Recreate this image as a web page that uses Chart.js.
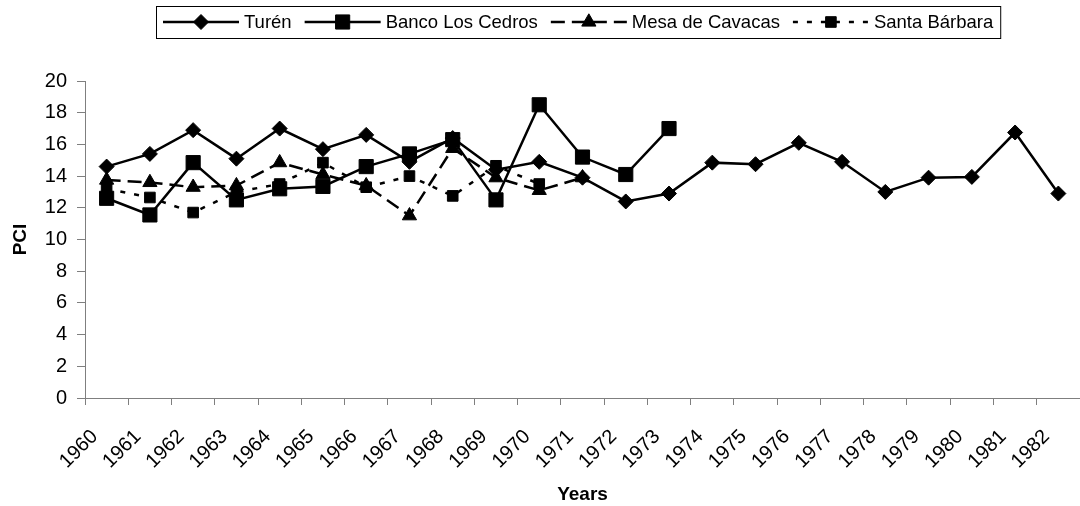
<!DOCTYPE html>
<html>
<head>
<meta charset="utf-8">
<script src="https://cdn.jsdelivr.net/npm/chart.js@4/dist/chart.umd.min.js"></script>
<style>
  html, body { margin: 0; padding: 0; background: #ffffff; }
  #wrap { width: 1080px; height: 506px; position: relative; }
</style>
</head>
<body>
<div id="wrap"><canvas id="chart" width="1080" height="506"></canvas></div>
<script>
// Years on the category axis
const years = ['1960','1961','1962','1963','1964','1965','1966','1967','1968','1969','1970',
               '1971','1972','1973','1974','1975','1976','1977','1978','1979','1980','1981','1982'];

// PCI per year for each locality (null = no record)
const turen = [14.6, 15.4, 16.9, 15.1, 17.0, 15.7, 16.6, 14.9, 16.4, 14.4, 14.9,
               13.9, 12.4, 12.9, 14.85, 14.75, 16.1, 14.9, 13.0, 13.9, 13.95, 16.75, 12.9];
const bancoLosCedros = [12.6, 11.55, 14.85, 12.5, 13.2, 13.35, 14.6, 15.4, 16.3, 12.5, 18.5,
                        15.2, 14.1, 17.0, null, null, null, null, null, null, null, null, null];
const mesaDeCavacas = [13.75, 13.6, 13.3, 13.4, 14.85, 14.1, 13.4, 11.5, 15.75, 13.9, 13.1,
                       13.9, null, null, null, null, null, null, null, null, null, null, null];
const santaBarbara = [13.2, 12.65, 11.7, 13.0, 13.5, 14.85, 13.3, 14.0, 12.75, 14.65, 13.5,
                      null, null, null, null, null, null, null, null, null, null, null, null];

// Y axis range and step
const yMin = 0, yMax = 20, yStep = 2;

const FONT = '"Liberation Sans", Arial, Helvetica, sans-serif';
const AXIS_GREY = '#7f7f7f';

function series(label, data, style, radius, dash, order) {
  return {
    label, data, order,
    borderColor: '#000', backgroundColor: '#000',
    borderWidth: 2.5, borderDash: dash,
    pointStyle: style, pointRadius: radius, pointHoverRadius: radius,
    pointBackgroundColor: '#000', pointBorderColor: '#000', pointBorderWidth: 1,
    tension: 0, spanGaps: false, fill: false
  };
}

const datasets = [
  series('Turén', turen, 'rectRot', 7.5, [], 4),
  series('Banco Los Cedros', bancoLosCedros, 'rect', 10, [], 3),
  series('Mesa de Cavacas', mesaDeCavacas, 'triangle', 8.2, [14, 7], 2),
  series('Santa Bárbara', santaBarbara, 'rect', 7.5, [5, 9], 1)
];

// Boxed legend across the top: a short line sample with its marker, then the name
const boxedLegend = {
  id: 'boxedLegend',
  afterDraw(chart) {
    const ctx = chart.ctx;
    const fontSize = 18.5;
    const lineLen = 76, gapText = 5, gapItem = 13, padX = 7;
    const cy = 22, top = 6, bottom = 38;
    ctx.save();
    ctx.font = fontSize + 'px ' + FONT;
    const items = chart.data.datasets.map(ds => ({ ds, w: ctx.measureText(ds.label).width }));
    let total = padX * 2;
    items.forEach((it, i) => { total += lineLen + gapText + it.w + (i < items.length - 1 ? gapItem : 0); });
    const area = chart.chartArea;
    const left = Math.round((area.left + area.right) / 2 - total / 2) - 4;
    // frame
    ctx.strokeStyle = '#000';
    ctx.lineWidth = 1;
    ctx.strokeRect(left + 0.5, top + 0.5, total, bottom - top);
    let x = left + padX;
    items.forEach((it) => {
      const ds = it.ds;
      ctx.save();
      ctx.strokeStyle = '#000';
      ctx.lineWidth = ds.borderWidth;
      ctx.setLineDash(ds.borderDash || []);
      ctx.beginPath();
      ctx.moveTo(x, cy);
      ctx.lineTo(x + lineLen, cy);
      ctx.stroke();
      ctx.restore();
      ctx.fillStyle = '#000';
      ctx.strokeStyle = '#000';
      ctx.lineWidth = 1;
      Chart.helpers.drawPoint(ctx, { pointStyle: ds.pointStyle, radius: ds.pointRadius, rotation: 0, borderWidth: 1 }, x + lineLen / 2, cy);
      ctx.fillStyle = '#000';
      ctx.textBaseline = 'middle';
      ctx.textAlign = 'left';
      ctx.fillText(ds.label, x + lineLen + gapText, cy + 1);
      x += lineLen + gapText + it.w + gapItem;
    });
    ctx.restore();
  }
};

new Chart(document.getElementById('chart'), {
  type: 'line',
  data: { labels: years, datasets },
  options: {
    responsive: false,
    animation: false,
    devicePixelRatio: 1,
    layout: { autoPadding: false, padding: { top: 81, right: 0, bottom: 0, left: 0 } },
    plugins: { legend: { display: false }, tooltip: { enabled: false } },
    scales: {
      x: {
        type: 'category',
        offset: true,
        grid: { offset: true, drawOnChartArea: false, drawTicks: true, tickLength: 7, color: AXIS_GREY },
        border: { display: true, color: AXIS_GREY, width: 1 },
        ticks: {
          autoSkip: false, minRotation: 45, maxRotation: 45, padding: 20, labelOffset: -12,
          color: '#000', font: { family: FONT, size: 20 }
        },
        title: {
          display: true, text: 'Years', color: '#000',
          font: { family: FONT, size: 19, weight: 'bold' },
          padding: { top: 0, bottom: 0 }
        },
        afterFit(scale) { scale.height = 108; scale.paddingLeft = 0; scale.paddingRight = 0; }
      },
      y: {
        min: yMin, max: yMax,
        grid: { drawOnChartArea: false, drawTicks: true, tickLength: 8, color: AXIS_GREY },
        border: { display: true, color: AXIS_GREY, width: 1 },
        ticks: {
          stepSize: yStep, padding: 10, color: '#000',
          font: { family: FONT, size: 20 }
        },
        title: {
          display: true, text: 'PCI', color: '#000',
          font: { family: FONT, size: 19, weight: 'bold' },
          padding: { top: 9, bottom: 0 }
        },
        afterFit(scale) { scale.width = 85; }
      }
    }
  },
  plugins: [boxedLegend]
});
</script>
</body>
</html>
